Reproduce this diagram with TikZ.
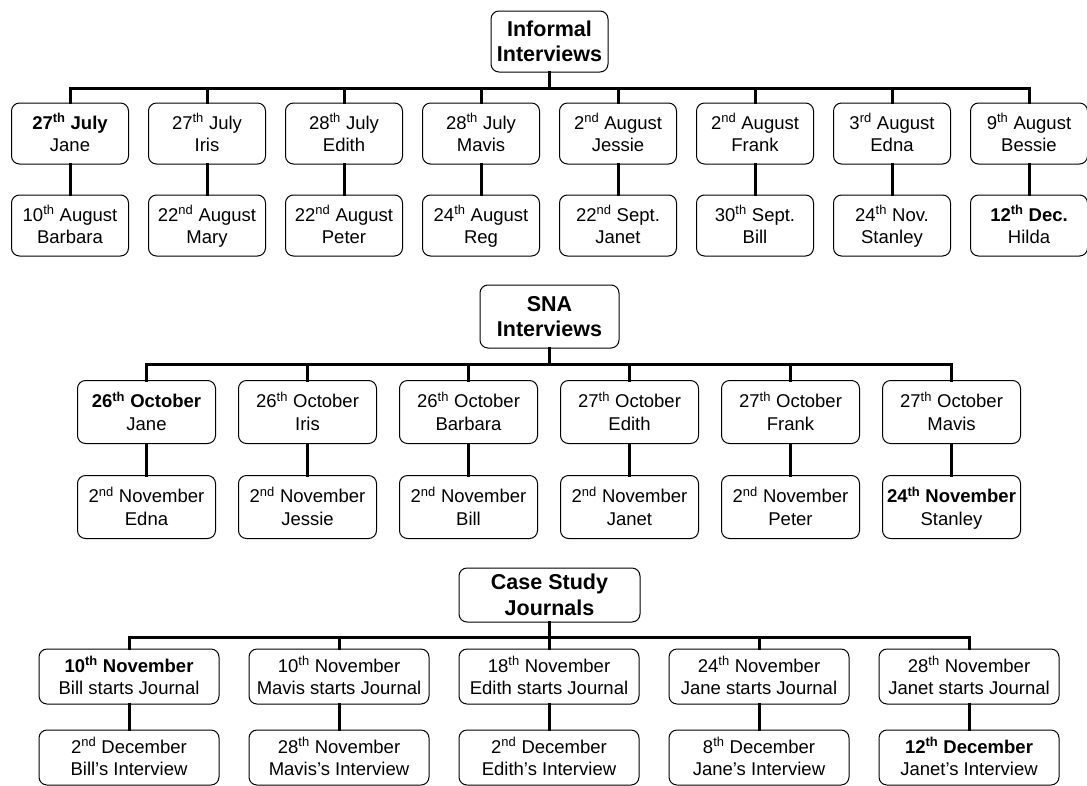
\documentclass[tikz,border=0pt]{standalone}
\usepackage{fontspec}
\setmainfont{Liberation Sans}
\newcommand\ordsup[1]{\textsuperscript{#1}}
% fixed line heights so every two-line label sits at the same place
\newcommand\cardstrut{\rule[-4pt]{0pt}{22pt}}
\newcommand\headstrut{\rule[-4.5pt]{0pt}{24pt}}
\newcommand\twol[2]{\cardstrut#1\\\cardstrut#2}
\newcommand\twoh[2]{\headstrut#1\\\headstrut#2}
\begin{document}
\begin{tikzpicture}[x=1pt,y=1pt,
  card/.style={draw=black, line width=1pt, rounded corners=8pt, align=center,
    inner sep=0pt, font=\fontsize{18.5}{22.5}\selectfont},
  head/.style={card, font=\fontsize{21.5}{25.5}\selectfont\bfseries},
  conn/.style={line width=3pt, line cap=rect}]
\useasboundingbox (0,0) rectangle (1087,-785);

% ---------- Informal interviews ----------
\node[head, minimum width=117pt, minimum height=61pt] (r1) at (549.5,-41.5) {\twoh{Informal}{Interviews}};
\coordinate (b1) at (0,-88);
\tikzset{ca/.style={card, minimum width=117pt, minimum height=61pt}}
\node[ca] (a1) at (70,-133.5)  {\twol{\textbf{27\ordsup{th} July}}{Jane}};
\node[ca] (a2) at (207,-133.5) {\twol{27\ordsup{th} July}{Iris}};
\node[ca] (a3) at (344,-133.5) {\twol{28\ordsup{th} July}{Edith}};
\node[ca] (a4) at (481,-133.5) {\twol{28\ordsup{th} July}{Mavis}};
\node[ca] (a5) at (618,-133.5) {\twol{2\ordsup{nd} August}{Jessie}};
\node[ca] (a6) at (755,-133.5) {\twol{2\ordsup{nd} August}{Frank}};
\node[ca] (a7) at (892,-133.5) {\twol{3\ordsup{rd} August}{Edna}};
\node[ca] (a8) at (1029,-133.5) {\twol{9\ordsup{th} August}{Bessie}};
\node[ca] (p1) at (70,-225.5)  {\twol{10\ordsup{th} August}{Barbara}};
\node[ca] (p2) at (207,-225.5) {\twol{22\ordsup{nd} August}{Mary}};
\node[ca] (p3) at (344,-225.5) {\twol{22\ordsup{nd} August}{Peter}};
\node[ca] (p4) at (481,-225.5) {\twol{24\ordsup{th} August}{Reg}};
\node[ca] (p5) at (618,-225.5) {\twol{22\ordsup{nd} Sept.}{Janet}};
\node[ca] (p6) at (755,-225.5) {\twol{30\ordsup{th} Sept.}{Bill}};
\node[ca] (p7) at (892,-225.5) {\twol{24\ordsup{th} Nov.}{Stanley}};
\node[ca] (p8) at (1029,-225.5) {\twol{\textbf{12\ordsup{th} Dec.}}{Hilda}};
\foreach \i in {1,...,8} {
  \draw[conn] (r1.south) -- (r1.south |- b1) -| (a\i.north);
  \draw[conn] (a\i.south) -- (p\i.north);
}

% ---------- SNA interviews ----------
\node[head, minimum width=139pt, minimum height=63pt] (r2) at (549.5,-316.5) {\twoh{SNA}{Interviews}};
\coordinate (b2) at (0,-364);
\tikzset{cb/.style={card, minimum width=138pt, minimum height=63pt}}
\node[cb] (s1) at (146.5,-412) {\twol{\textbf{26\ordsup{th} October}}{Jane}};
\node[cb] (s2) at (307.5,-412) {\twol{26\ordsup{th} October}{Iris}};
\node[cb] (s3) at (468.5,-412) {\twol{26\ordsup{th} October}{Barbara}};
\node[cb] (s4) at (629.5,-412) {\twol{27\ordsup{th} October}{Edith}};
\node[cb] (s5) at (790.5,-412) {\twol{27\ordsup{th} October}{Frank}};
\node[cb] (s6) at (951.5,-412) {\twol{27\ordsup{th} October}{Mavis}};
\node[cb] (q1) at (146.5,-507) {\twol{2\ordsup{nd} November}{Edna}};
\node[cb] (q2) at (307.5,-507) {\twol{2\ordsup{nd} November}{Jessie}};
\node[cb] (q3) at (468.5,-507) {\twol{2\ordsup{nd} November}{Bill}};
\node[cb] (q4) at (629.5,-507) {\twol{2\ordsup{nd} November}{Janet}};
\node[cb] (q5) at (790.5,-507) {\twol{2\ordsup{nd} November}{Peter}};
\node[cb] (q6) at (951.5,-507) {\twol{\textbf{24\ordsup{th} November}}{Stanley}};
\foreach \i in {1,...,6} {
  \draw[conn] (r2.south) -- (r2.south |- b2) -| (s\i.north);
  \draw[conn] (s\i.south) -- (q\i.north);
}

% ---------- Case study journals ----------
\node[head, minimum width=181pt, minimum height=54pt] (r3) at (549.5,-595) {\twoh{Case Study}{Journals}};
\coordinate (b3) at (0,-637);
\tikzset{cc/.style={card, minimum width=180pt, minimum height=55pt}}
\node[cc] (j1) at (129,-676.5) {\twol{\textbf{10\ordsup{th} November}}{Bill starts Journal}};
\node[cc] (j2) at (339,-676.5) {\twol{10\ordsup{th} November}{Mavis starts Journal}};
\node[cc] (j3) at (549,-676.5) {\twol{18\ordsup{th} November}{Edith starts Journal}};
\node[cc] (j4) at (759,-676.5) {\twol{24\ordsup{th} November}{Jane starts Journal}};
\node[cc] (j5) at (969,-676.5) {\twol{28\ordsup{th} November}{Janet starts Journal}};
\node[cc] (k1) at (129,-757.5) {\twol{2\ordsup{nd} December}{Bill’s Interview}};
\node[cc] (k2) at (339,-757.5) {\twol{28\ordsup{th} November}{Mavis’s Interview}};
\node[cc] (k3) at (549,-757.5) {\twol{2\ordsup{nd} December}{Edith’s Interview}};
\node[cc] (k4) at (759,-757.5) {\twol{8\ordsup{th} December}{Jane’s Interview}};
\node[cc] (k5) at (969,-757.5) {\twol{\textbf{12\ordsup{th} December}}{Janet’s Interview}};
\foreach \i in {1,...,5} {
  \draw[conn] (r3.south) -- (r3.south |- b3) -| (j\i.north);
  \draw[conn] (j\i.south) -- (k\i.north);
}
\end{tikzpicture}
\end{document}
